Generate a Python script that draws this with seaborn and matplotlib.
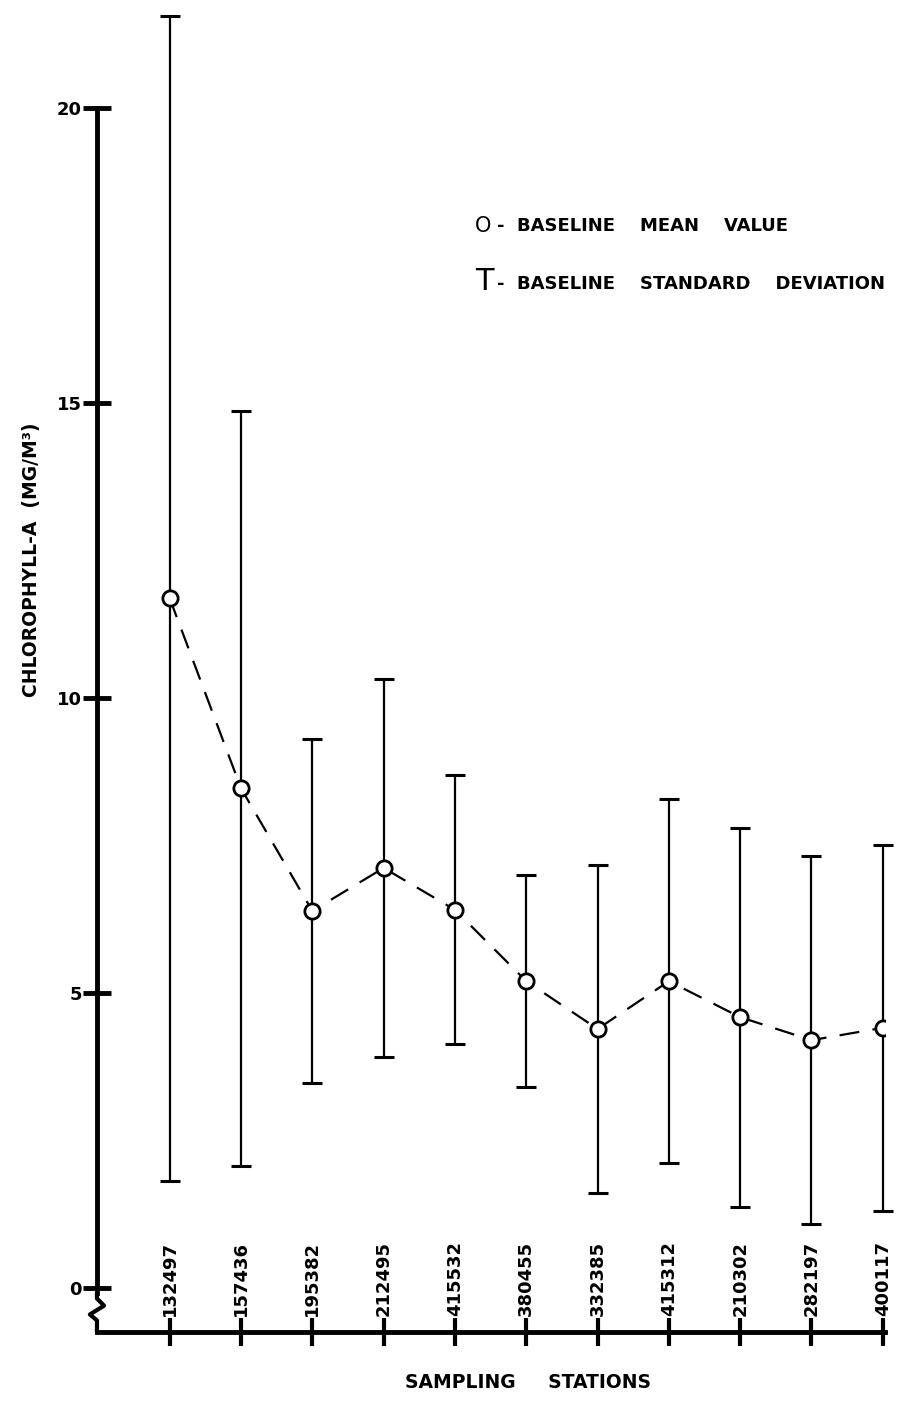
import numpy as np
import seaborn as sns
import matplotlib.pyplot as plt
from matplotlib.transforms import blended_transform_factory

# Station ids along the x axis
stations = ["132497", "157436", "195382", "212495", "415532", "380455",
            "332385", "415312", "210302", "282197", "400117"]
# Baseline mean chlorophyll-a (mg/m3)
mean_values = [11.69, 8.47, 6.39, 7.12, 6.41, 5.20, 4.39, 5.20, 4.59, 4.20, 4.41]
# Baseline standard deviation
std_values = [9.87, 6.40, 2.91, 3.20, 2.28, 1.80, 2.78, 3.09, 3.21, 3.12, 3.10]

y_ticks = [0, 5, 10, 15, 20]

sns.set_theme(style="white")
plt.rcParams['font.family'] = ['DejaVu Sans']
plt.rcParams['text.color'] = 'black'
plt.rcParams['xtick.color'] = 'black'
plt.rcParams['ytick.color'] = 'black'

fig = plt.figure(figsize=(9.2, 14.05), dpi=100)
ax = fig.add_axes([0.1054, 0.052, 0.8565, 0.871])

pos = np.arange(len(stations))

# standard deviation bars
ax.errorbar(pos, mean_values, yerr=std_values, fmt='none', ecolor='black',
            elinewidth=1.6, capsize=7, capthick=2.2, clip_on=False, zorder=2)

# mean values, dashed connecting line with open circles
sns.lineplot(x=pos, y=mean_values, ax=ax, color='black', linewidth=1.6,
             linestyle=(0, (9, 6)), marker='o', markersize=11,
             markerfacecolor='white', markeredgecolor='black',
             markeredgewidth=2.0, zorder=3)

ax.set_xlim(-1.02, 10.03)
ax.set_ylim(-0.746, 20)

# axes styling
for side in ['top', 'right']:
    ax.spines[side].set_visible(False)
ax.spines['left'].set_linewidth(3.5)
ax.spines['bottom'].set_linewidth(3.5)
ax.spines['left'].set_color('black')
ax.spines['bottom'].set_color('black')
ax.spines['left'].set_bounds(-0.08, 20)

# zigzag break in the y axis below zero
tr = blended_transform_factory(ax.transAxes, ax.transData)
ax.plot([0, 0, 0.009, -0.009, 0, 0], [-0.08, -0.18, -0.3, -0.45, -0.55, -0.746],
        transform=tr, color='black', linewidth=3.0, clip_on=False,
        solid_capstyle='butt')

ax.set_yticks(y_ticks)
ax.set_yticklabels([str(t) for t in y_ticks], fontsize=13, fontweight='bold')
ax.set_xticks(pos)
ax.set_xticklabels([])
ax.tick_params(axis='y', direction='inout', length=20, width=3.5, pad=1,
               left=True)
ax.tick_params(axis='x', direction='inout', length=20, width=3.0,
               bottom=True)

# station labels sitting just above the x axis
for p, s in zip(pos, stations):
    ax.text(p, -0.47, s, rotation=90, ha='center', va='bottom',
            fontsize=13, fontweight='bold')

# axis titles
fig.text(32 / 920, 1 - 560 / 1405, "CHLOROPHYLL-A  (MG/M³)", rotation=90,
         ha='center', va='center', fontsize=13.5, fontweight='bold')
fig.text(528 / 920, 1 - 1383 / 1405, "SAMPLING     STATIONS",
         ha='center', va='center', fontsize=13.5, fontweight='bold')

# key
fig.text(475 / 920, 1 - 226 / 1405, "O", ha='left', va='center', fontsize=15)
fig.text(497 / 920, 1 - 226 / 1405, "-  BASELINE    MEAN    VALUE",
         ha='left', va='center', fontsize=13, fontweight='bold')
fig.text(475 / 920, 1 - 282 / 1405, "T", ha='left', va='center', fontsize=22)
fig.text(497 / 920, 1 - 284 / 1405, "-  BASELINE    STANDARD    DEVIATION",
         ha='left', va='center', fontsize=13, fontweight='bold')

fig.savefig("out.png", dpi=100, facecolor='white')
